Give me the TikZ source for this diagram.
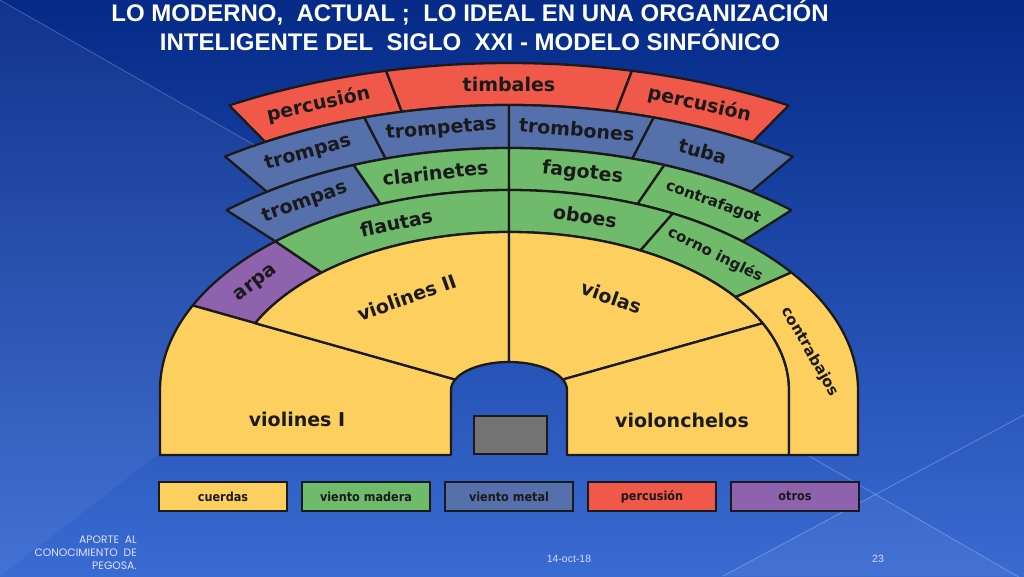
\documentclass[tikz,border=0pt]{standalone}
\usepackage{fontspec}
\usepackage{tikz}
\usetikzlibrary{positioning}
\newfontfamily\secfont{DejaVu Sans}
\newfontfamily\legfont{DejaVu Sans Condensed}
\newfontfamily\titfont{Liberation Sans}
\newfontfamily\footfont{Poppins}
\definecolor{cuerda}{HTML}{FDCF5E}
\definecolor{madera}{HTML}{6FBB6B}
\definecolor{metal}{HTML}{5670AC}
\definecolor{percu}{HTML}{F0584A}
\definecolor{otros}{HTML}{8F62AE}
\definecolor{fondoA}{HTML}{052A88}
\definecolor{fondoM}{HTML}{0D42AE}
\definecolor{fondoB}{HTML}{3A6BD2}
\definecolor{tinta}{HTML}{1A1A1A}
\newcommand{\sector}[7]{%
  \filldraw[sec,fill=#1] (#6:#4 and #5) arc[start angle=#6,end angle=#7,x radius=#4,y radius=#5]
  -- (#7:#2 and #3) arc[start angle=#7,end angle=#6,x radius=#2,y radius=#3] -- cycle;}
\newcommand{\rot}[3]{atan2(-(#3)*cos(#1),(#2)*sin(#1))}

\begin{document}
\begin{tikzpicture}[x=1pt,y=1pt,
  sec/.style={draw=tinta,line width=2.3pt,line join=round},
  lbl/.style={font=\secfont\bfseries\fontsize{19}{21}\selectfont,text=tinta,inner sep=0pt},
  lblsm/.style={lbl,font=\secfont\bfseries\fontsize{15}{17}\selectfont},
  leg/.style={draw=tinta,line width=2.5pt,minimum width=128pt,minimum height=29pt,on grid,
    font=\legfont\bfseries\fontsize{12.5}{14}\selectfont,text=tinta,inner sep=0pt},
  tit/.style={font=\titfont\bfseries\fontsize{24}{28}\selectfont,text=white,inner sep=0pt},
  foot/.style={font=\footfont\fontsize{10.8}{12.7}\selectfont,text=white!88!blue,inner sep=0pt},
  foot2/.style={font=\titfont\fontsize{10.5}{12}\selectfont,text=white!85!blue,inner sep=0pt}]
	\useasboundingbox (-509,-186) rectangle (515,390);
	\shade[top color=fondoA,middle color=fondoM,bottom color=fondoB] (-509,-186) rectangle (515,390);
	\fill[white,opacity=0.05] (-509,390) -- (-79,145) -- (-509,-186) -- cycle;
	\draw[white,opacity=0.22,line width=0.8pt] (-509,390) -- (-79,145);
	\fill[white,opacity=0.05] (366,-104) -- (214,-186) -- (508,-186) -- cycle;
	\draw[white,opacity=0.25,line width=0.8pt] (214,-186) -- (515,-25);
	\draw[white,opacity=0.25,line width=0.8pt] (281,-55) -- (515,-190);

	\sector{percu}{495}{285}{568}{327}{102.5}{119.5}
	\sector{percu}{495}{285}{568}{327}{77.5}{102.5}
	\sector{percu}{495}{285}{568}{327}{60.5}{77.5}
	\sector{metal}{422}{242}{495}{285}{107}{125}
	\sector{metal}{422}{242}{495}{285}{90}{107}
	\sector{metal}{422}{242}{495}{285}{73}{90}
	\sector{metal}{422}{242}{495}{285}{55}{73}
	\sector{metal}{349}{200}{422}{242}{111.6}{132}
	\sector{madera}{349}{200}{422}{242}{90}{111.6}
	\sector{madera}{349}{200}{422}{242}{68.4}{90}
	\sector{madera}{349}{200}{422}{242}{48}{68.4}
	\sector{otros}{280}{158}{349}{200}{132}{155}
	\sector{madera}{280}{158}{349}{200}{90}{132}
	\sector{madera}{280}{158}{349}{200}{62}{90}
	\sector{madera}{280}{158}{349}{200}{36}{62}

	\filldraw[sec,fill=cuerda] (-349,-65) -- (180:349 and 200) arc[start angle=180,end angle=155,x radius=349,y radius=200]
	  -- (158:58 and 28) arc[start angle=158,end angle=180,x radius=58,y radius=28] -- (-58,-65) -- cycle;
	\filldraw[sec,fill=cuerda] (90:280 and 158) arc[start angle=90,end angle=155,x radius=280,y radius=158]
	  -- (158:58 and 28) arc[start angle=158,end angle=90,x radius=58,y radius=28] -- cycle;
	\filldraw[sec,fill=cuerda] (90:280 and 158) arc[start angle=90,end angle=25,x radius=280,y radius=158]
	  -- (22:58 and 28) arc[start angle=22,end angle=90,x radius=58,y radius=28] -- cycle;
	\filldraw[sec,fill=cuerda] (58,-65) -- (0:58 and 28) arc[start angle=0,end angle=22,x radius=58,y radius=28]
	  -- (25:280 and 158) arc[start angle=25,end angle=0,x radius=280,y radius=158] -- (280,-65) -- cycle;
	\filldraw[sec,fill=cuerda] (280,-65) -- (0:280 and 158) arc[start angle=0,end angle=36,x radius=280,y radius=158]
	  -- (36:349 and 200) arc[start angle=36,end angle=0,x radius=349,y radius=200] -- (349,-65) -- cycle;

	\node[draw=tinta,line width=2pt,fill=black!55,minimum width=73pt,minimum height=38pt,inner sep=0pt] (podio) at (1.5,-45) {};

	\node[lbl,rotate={\rot{111}{531.5}{306}}] (perc_l) at (111:531.5 and 306) {percusión};
	\node[lbl] (timb) at (90:531.5 and 306) {timbales};
	\node[lbl,rotate={\rot{69}{531.5}{306}}] (perc_r) at (69:531.5 and 306) {percusión};
	\node[lbl,rotate={\rot{116}{458.5}{263.5}}] (tromp_a) at (116:458.5 and 263.5) {trompas};
	\node[lbl,rotate={\rot{98.5}{458.5}{263.5}}] (trompet) at (98.5:458.5 and 263.5) {trompetas};
	\node[lbl,rotate={\rot{81.5}{458.5}{263.5}}] (trombon) at (81.5:458.5 and 263.5) {trombones};
	\node[lbl,rotate={\rot{65}{458.5}{263.5}}] (tuba) at (65:458.5 and 263.5) {tuba};
	\node[lbl,rotate={\rot{122}{385.5}{221}}] (tromp_b) at (122:385.5 and 221) {trompas};
	\node[lbl,rotate={\rot{101}{385.5}{221}}] (clarin) at (101:385.5 and 221) {clarinetes};
	\node[lbl,rotate={\rot{79}{385.5}{221}}] (fagot) at (79:385.5 and 221) {fagotes};
	\node[lblsm,rotate={\rot{58}{385.5}{221}}] (cfagot) at (58:385.5 and 221) {contrafagot};
	\node[lbl,rotate={\rot{143.5}{314.5}{179}}] (arpa) at (143.5:314.5 and 179) {arpa};
	\node[lbl,rotate={\rot{111}{314.5}{179}}] (flauta) at (111:314.5 and 179) {flautas};
	\node[lbl,rotate={\rot{76}{314.5}{179}}] (oboe) at (76:314.5 and 179) {oboes};
	\node[lblsm,rotate={\rot{49}{314.5}{179}}] (corno) at (49:314.5 and 179) {corno inglés};
	\node[lblsm,rotate=-60] (cbajo) at (301,38) {contrabajos};
	\node[lbl,rotate={\rot{122}{193}{109}}] (viol_b) at (122:193 and 109) {violines II};
	\node[lbl,rotate={\rot{58}{193}{109}}] (viola) at (58:193 and 109) {violas};
	\node[lbl] (viol_a) at (-212,-29) {violines I};
	\node[lbl] (cello) at (173,-30) {violonchelos};

	\node[leg,fill=cuerda] (l_cuer) at (-286,-106.5) {cuerdas};
	\node[leg,fill=madera] (l_mad) [right=143pt of l_cuer] {viento madera};
	\node[leg,fill=metal] (l_met) [right=143pt of l_mad] {viento metal};
	\node[leg,fill=percu] (l_perc) [right=143pt of l_met] {percusión};
	\node[leg,fill=otros] (l_otr) [right=143pt of l_perc] {otros};

	\node[tit,anchor=base] (tit1) at (-39,368) {LO MODERNO,\ \ ACTUAL ;\ \ LO IDEAL EN UNA ORGANIZACIÓN};
	\node[tit,anchor=base] (tit2) at (-39,339) {INTELIGENTE DEL\ \ SIGLO\ \ XXI - MODELO SINFÓNICO};

	\node[foot,anchor=north east,align=right] (aporte) at (-372,-146) {APORTE\ \ AL\\CONOCIMIENTO\ \ DE\\PEGOSA.};
	\node[foot2] (fecha) at (60,-169) {14-oct-18};
	\node[foot2] (pag) at (369,-169) {23};
\end{tikzpicture}
\end{document}
